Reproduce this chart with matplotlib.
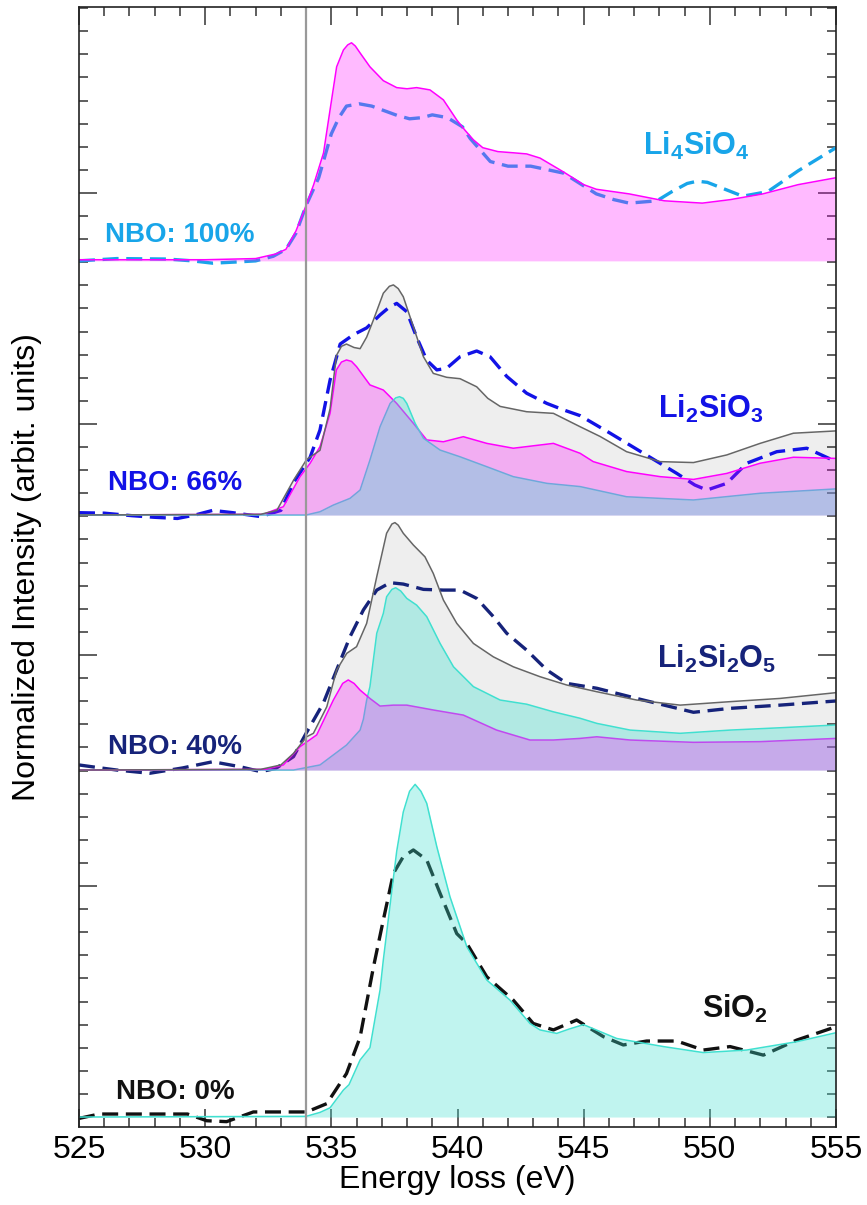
import numpy as np
import matplotlib
matplotlib.use('Agg')
import matplotlib.pyplot as plt
from matplotlib.ticker import MultipleLocator, FixedLocator

plt.rcParams['font.family'] = ['Liberation Sans', 'DejaVu Sans']
plt.rcParams['mathtext.fontset'] = 'custom'
plt.rcParams['mathtext.rm'] = 'Liberation Sans'
plt.rcParams['mathtext.bf'] = 'Liberation Sans:bold'
plt.rcParams['mathtext.it'] = 'Liberation Sans:italic'

########
# data (heights above each panel's own baseline)
########

# Li4SiO4 (NBO 100%)
li4_calc_x = [525, 530, 532, 532.8, 533.2, 533.6, 534.0, 534.3, 534.69, 534.95, 535.21, 535.48, 535.65, 535.8,
              535.95, 536.14, 536.53, 537.06, 537.59, 538.0, 538.38, 538.91, 539.44, 539.97, 540.3, 540.63,
              541.0, 541.6, 542.2, 542.74, 543.27, 544.2, 545.0, 545.5, 546.8, 548.2, 549.7, 550.8, 552.1,
              553.5, 555.0]
li4_calc_y = [0.005, 0.005, 0.01, 0.03, 0.05, 0.13, 0.24, 0.33, 0.467, 0.654, 0.84, 0.913, 0.935, 0.944,
              0.93, 0.90, 0.84, 0.78, 0.75, 0.745, 0.75, 0.74, 0.697, 0.61, 0.565, 0.524,
              0.49, 0.473, 0.468, 0.463, 0.445, 0.385, 0.33, 0.31, 0.29, 0.26, 0.25, 0.265, 0.29,
              0.33, 0.36]
li4_exp_x = [525, 526.5, 528.5, 529.5, 530.3, 531.2, 532.0, 532.7, 533.2, 533.6, 534.0, 534.5, 535.0,
             535.3, 535.6, 536.1, 536.6, 537.1, 537.6, 538.1, 538.6, 539.0, 539.6, 540.2, 540.5, 540.9, 541.3,
             542.0, 542.9, 544.2, 545.5, 546.2, 546.8, 547.9, 548.5, 549.1, 549.5, 549.9, 550.6, 551.3, 552.3,
             553.5, 555.0]
li4_exp_y = [0.0, 0.01, 0.008, 0.0, -0.01, -0.005, 0.0, 0.02, 0.05, 0.12, 0.24, 0.36, 0.55,
             0.62, 0.67, 0.68, 0.67, 0.65, 0.63, 0.615, 0.62, 0.632, 0.62, 0.58, 0.53, 0.48, 0.43,
             0.41, 0.41, 0.38, 0.29, 0.265, 0.25, 0.26, 0.30, 0.335, 0.345, 0.34, 0.31, 0.28, 0.30,
             0.39, 0.49]

# Li2SiO3 (NBO 66%)
li2sio3_tot_x = [525, 532.2, 532.84, 533.5, 533.76, 534.02, 534.55, 534.95, 535.2, 535.4, 535.6, 535.9, 536.14,
                 536.4, 536.67, 537.06, 537.3, 537.46, 537.65, 537.85, 538.25, 538.65, 539.04, 539.57, 540.1,
                 540.76, 541.2, 541.69, 542.74, 543.8, 544.86, 545.65, 546.7, 548.03, 549.35, 550.67, 551.99,
                 553.31, 555.0]
li2sio3_tot_y = [0.0, 0.003, 0.02, 0.15, 0.195, 0.24, 0.28, 0.46, 0.69, 0.73, 0.74, 0.725, 0.72,
                 0.77, 0.845, 0.96, 0.99, 0.996, 0.98, 0.945, 0.815, 0.685, 0.613, 0.596, 0.59,
                 0.555, 0.505, 0.47, 0.447, 0.44, 0.382, 0.34, 0.274, 0.231, 0.227, 0.26, 0.31,
                 0.354, 0.364]
li2sio3_exp_x = [525, 526, 527.1, 528.0, 528.9, 529.6, 530.3, 531.1, 532.2, 533.0, 533.5, 534.16, 534.55,
                 534.95, 535.35, 535.87, 536.4, 536.93, 537.3, 537.59, 537.99, 538.38, 538.78, 539.18, 539.57,
                 540.1, 540.76, 541.29, 541.95, 542.74, 543.54, 544.2, 544.86, 546.05, 547.37, 548.69,
                 549.4, 549.88, 550.67, 551.46, 552.65, 553.84, 555.0]
li2sio3_exp_y = [0.01, 0.008, -0.003, -0.01, -0.015, 0.0, 0.02, 0.01, -0.007, 0.02, 0.14, 0.25, 0.368,
                 0.584, 0.74, 0.78, 0.81, 0.866, 0.90, 0.916, 0.88, 0.77, 0.67, 0.628, 0.635,
                 0.685, 0.71, 0.685, 0.6, 0.527, 0.483, 0.455, 0.43, 0.354, 0.267, 0.18,
                 0.13, 0.108, 0.137, 0.224, 0.274, 0.289, 0.231]
li2sio3_nbo_x = [525, 532.3, 533.1, 533.76, 534.16, 534.55, 534.95, 535.2, 535.4, 535.6, 535.8, 536.0, 536.53,
                 537.06, 537.59, 538.25, 538.78, 539.44, 540.23, 541.16, 542.21, 543.8, 544.86, 545.38, 546.7,
                 548.03, 549.35, 550.67, 551.99, 553.31, 555.0]
li2sio3_nbo_y = [0.0, 0.003, 0.036, 0.166, 0.224, 0.296, 0.44, 0.628, 0.662, 0.671, 0.665, 0.642, 0.563,
                 0.541, 0.483, 0.397, 0.325, 0.317, 0.339, 0.31, 0.289, 0.31, 0.267, 0.231, 0.188,
                 0.166, 0.154, 0.18, 0.224, 0.25, 0.245]
li2sio3_bo_x = [525, 534.0, 534.55, 535.08, 535.74, 536.14, 536.53, 536.93, 537.33, 537.55, 537.7, 537.85,
                537.99, 538.32, 538.65, 539.31, 540.1, 541.16, 542.21, 543.54, 544.86, 546.7, 549.35, 551.99,
                555.0]
li2sio3_bo_y = [0.0, 0.0, 0.014, 0.043, 0.072, 0.108, 0.238, 0.382, 0.483, 0.507, 0.512, 0.505,
                0.483, 0.397, 0.332, 0.281, 0.252, 0.209, 0.166, 0.137, 0.123, 0.079, 0.065, 0.094,
                0.113]

# Li2Si2O5 (NBO 40%)
li2si2o5_tot_x = [525, 532.2, 533.0, 533.5, 534.02, 534.29, 534.82, 535.21, 535.61, 536.0, 536.4, 536.8,
                  537.19, 537.4, 537.52, 537.65, 537.85, 538.25, 538.71, 539.04, 539.44, 539.97, 540.63,
                  541.42, 542.21, 543.27, 544.33, 545.52, 547.1, 548.82, 550.8, 552.78, 555.0]
li2si2o5_tot_y = [0.0, 0.003, 0.022, 0.072, 0.144, 0.159, 0.274, 0.433, 0.505, 0.534, 0.635, 0.837,
                  1.025, 1.065, 1.071, 1.06, 1.025, 0.974, 0.923, 0.851, 0.736, 0.635, 0.548,
                  0.49, 0.447, 0.404, 0.368, 0.339, 0.303, 0.281, 0.296, 0.31, 0.335]
li2si2o5_exp_x = [525, 525.8, 526.5, 527.8, 529.1, 530.3, 531.4, 532.2, 532.8, 533.5, 534.0, 534.68,
                  535.21, 535.74, 536.27, 536.8, 537.33, 537.85, 538.65, 539.44, 540.1, 540.76, 541.42,
                  541.95, 542.74, 543.54, 544.33, 545.52, 547.1, 549.35, 550.8, 552.78, 555.0]
li2si2o5_exp_y = [0.022, 0.01, 0.0, -0.014, 0.009, 0.036, 0.014, -0.007, 0.007, 0.058, 0.159, 0.289,
                  0.433, 0.577, 0.693, 0.779, 0.811, 0.805, 0.782, 0.779, 0.779, 0.743, 0.664,
                  0.592, 0.519, 0.433, 0.375, 0.354, 0.31, 0.25, 0.267, 0.281, 0.299]
li2si2o5_bo_x = [525, 533.5, 534.55, 535.6, 536.14, 536.27, 536.4, 536.53, 536.8, 537.06, 537.19, 537.4,
                 537.55, 537.75, 537.99, 538.38, 538.78, 539.31, 539.84, 540.63, 541.69, 542.74, 543.8,
                 544.86, 545.52, 546.84, 548.82, 550.8, 552.78, 555.0]
li2si2o5_bo_y = [0.0, 0.0, 0.022, 0.108, 0.173, 0.22, 0.303, 0.361, 0.592, 0.678, 0.75, 0.782,
                 0.789, 0.775, 0.743, 0.714, 0.664, 0.548, 0.447, 0.361, 0.303, 0.285, 0.252,
                 0.224, 0.202, 0.173, 0.159, 0.173, 0.183, 0.195]
li2si2o5_nbo_x = [525, 532.4, 533.1, 533.76, 534.42, 535.08, 535.45, 535.67, 535.9, 536.14, 536.53, 536.93,
                  537.46, 537.99, 539.04, 540.23, 541.55, 542.87, 543.8, 544.86, 545.52, 546.84, 549.35,
                  552.0, 555.0]
li2si2o5_nbo_y = [0.0, 0.003, 0.022, 0.101, 0.152, 0.303, 0.375, 0.39, 0.375, 0.346, 0.31, 0.277,
                  0.281, 0.281, 0.26, 0.238, 0.173, 0.13, 0.13, 0.137, 0.144, 0.13, 0.12,
                  0.123, 0.137]

# SiO2 (NBO 0%)
sio2_calc_x = [525, 534.0, 534.55, 534.95, 535.48, 535.7, 536.14, 536.53, 536.93, 537.06, 537.33, 537.59,
               537.85, 538.1, 538.32, 538.55, 538.78, 539.18, 539.7, 540.37, 541.16, 542.08, 542.87,
               543.27, 543.93, 544.4, 544.99, 546.31, 548.16, 549.74, 551.46, 553.44, 555.0]
sio2_calc_y = [0.0, 0.003, 0.02, 0.04, 0.117, 0.14, 0.247, 0.30, 0.55, 0.68, 0.92, 1.15,
               1.32, 1.41, 1.44, 1.41, 1.358, 1.17, 0.954, 0.737, 0.593, 0.506, 0.405,
               0.377, 0.362, 0.38, 0.40, 0.34, 0.305, 0.279, 0.29, 0.326, 0.365]
sio2_exp_x = [525, 525.8, 527.8, 529.3, 530.06, 530.85, 531.91, 533.1, 534.02, 534.82, 535.6, 536.14,
              536.67, 537.06, 537.46, 537.85, 538.25, 538.78, 539.31, 539.97, 540.37, 541.16, 542.21,
              543.0, 543.8, 544.72, 545.78, 546.57, 547.5, 548.69, 549.74, 550.8, 552.12, 553.44, 555.0]
sio2_exp_y = [-0.006, 0.013, 0.013, 0.013, -0.016, -0.02, 0.022, 0.022, 0.022, 0.058, 0.188, 0.346,
              0.65, 0.853, 1.055, 1.127, 1.156, 1.113, 0.968, 0.794, 0.751, 0.607, 0.506,
              0.405, 0.377, 0.42, 0.348, 0.312, 0.329, 0.329, 0.29, 0.305, 0.268, 0.333, 0.391]

# vertical offsets of the stacked spectra
off_li4 = 3.706
off_li2sio3 = 2.606
off_li2si2o5 = 1.502
off_sio2 = 0.0

# colours
c_magenta = '#ff00ff'
c_turq = '#40e0d0'
c_gray_fill = '#eeeeee'
c_gray_line = '#666666'
c_li4 = '#18a5e9'
c_li2sio3 = '#1212e6'
c_li2si2o5 = '#16237a'
c_sio2 = '#111111'

DASH = (0, (4.8, 2.3))
LW_DASH = 2.4
LW = 1.1


def arr(x, y, off):
    return np.asarray(x, float), np.asarray(y, float) + off


fig = plt.figure(figsize=(8.67, 12.05), dpi=100)
ax = fig.add_axes([0.0911, 0.0647, 0.8732, 0.9295])

# ---- Li4SiO4
x, y = arr(li4_exp_x, li4_exp_y, off_li4)
ax.plot(x, y, color=c_li4, lw=LW_DASH, ls=DASH, zorder=3)
x, y = arr(li4_calc_x, li4_calc_y, off_li4)
ax.plot(x, y, color=c_magenta, lw=LW, zorder=4)
ax.fill_between(x, off_li4, y, color=c_magenta, alpha=0.27, lw=0, zorder=5)

# ---- Li2SiO3
x, y = arr(li2sio3_tot_x, li2sio3_tot_y, off_li2sio3)
ax.fill_between(x, off_li2sio3, y, color=c_gray_fill, lw=0, zorder=1)
ax.plot(x, y, color=c_gray_line, lw=LW, zorder=7)
x, y = arr(li2sio3_exp_x, li2sio3_exp_y, off_li2sio3)
ax.plot(x, y, color=c_li2sio3, lw=LW_DASH, ls=DASH, zorder=3)
x, y = arr(li2sio3_nbo_x, li2sio3_nbo_y, off_li2sio3)
ax.plot(x, y, color=c_magenta, lw=LW, zorder=4)
ax.fill_between(x, off_li2sio3, y, color=c_magenta, alpha=0.27, lw=0, zorder=5)
x, y = arr(li2sio3_bo_x, li2sio3_bo_y, off_li2sio3)
ax.plot(x, y, color=c_turq, lw=LW, zorder=4)
ax.fill_between(x, off_li2sio3, y, color=c_turq, alpha=0.35, lw=0, zorder=6)

# ---- Li2Si2O5
x, y = arr(li2si2o5_tot_x, li2si2o5_tot_y, off_li2si2o5)
ax.fill_between(x, off_li2si2o5, y, color=c_gray_fill, lw=0, zorder=1)
ax.plot(x, y, color=c_gray_line, lw=LW, zorder=7)
x, y = arr(li2si2o5_exp_x, li2si2o5_exp_y, off_li2si2o5)
ax.plot(x, y, color=c_li2si2o5, lw=LW_DASH, ls=DASH, zorder=3)
x, y = arr(li2si2o5_bo_x, li2si2o5_bo_y, off_li2si2o5)
ax.plot(x, y, color=c_turq, lw=LW, zorder=4)
ax.fill_between(x, off_li2si2o5, y, color=c_turq, alpha=0.35, lw=0, zorder=5)
x, y = arr(li2si2o5_nbo_x, li2si2o5_nbo_y, off_li2si2o5)
ax.plot(x, y, color=c_magenta, lw=LW, zorder=4)
ax.fill_between(x, off_li2si2o5, y, color=c_magenta, alpha=0.27, lw=0, zorder=6)

# ---- SiO2
x, y = arr(sio2_exp_x, sio2_exp_y, off_sio2)
ax.plot(x, y, color=c_sio2, lw=LW_DASH, ls=DASH, zorder=3)
x, y = arr(sio2_calc_x, sio2_calc_y, off_sio2)
ax.plot(x, y, color=c_turq, lw=LW, zorder=4)
ax.fill_between(x, off_sio2, y, color=c_turq, alpha=0.33, lw=0, zorder=5)

ax.axvline(534, color='#999999', lw=1.6, zorder=8)

# labels
lab = dict(fontweight='bold', zorder=9)
ax.text(547.35, 4.165, r'$\mathbf{Li_4SiO_4}$', color=c_li4, fontsize=22, va='baseline', **lab)
ax.text(526.03, 3.818, 'NBO: 100%', color=c_li4, fontsize=20, va='center', **lab)
ax.text(547.95, 3.026, r'$\mathbf{Li_2SiO_3}$', color=c_li2sio3, fontsize=22, va='baseline', **lab)
ax.text(526.15, 2.745, 'NBO: 66%', color=c_li2sio3, fontsize=20, va='center', **lab)
ax.text(547.91, 1.944, r'$\mathbf{Li_2Si_2O_5}$', color=c_li2si2o5, fontsize=22, va='baseline', **lab)
ax.text(526.15, 1.602, 'NBO: 40%', color=c_li2si2o5, fontsize=20, va='center', **lab)
ax.text(549.69, 0.429, r'$\mathbf{SiO_2}$', color=c_sio2, fontsize=22, va='baseline', **lab)
ax.text(526.47, 0.108, 'NBO: 0%', color=c_sio2, fontsize=20, va='center', **lab)

# axes
ax.set_xlim(525, 555)
ax.set_ylim(-0.0433, 4.805)
ax.xaxis.set_major_locator(MultipleLocator(5))
ax.xaxis.set_minor_locator(MultipleLocator(1))
ax.yaxis.set_major_locator(FixedLocator([1, 2, 3, 4]))
ax.yaxis.set_minor_locator(MultipleLocator(0.1))
ax.set_yticklabels([])
ax.tick_params(which='both', direction='in', top=True, right=True, color='#333333', width=1.1)
ax.tick_params(which='major', length=13, labelsize=23, pad=6)
ax.tick_params(which='minor', length=6.5)
for s in ax.spines.values():
    s.set_linewidth(1.2)
    s.set_color('#222222')
    s.set_zorder(10)

ax.set_xlabel('Energy loss (eV)', fontsize=23, labelpad=0)
ax.set_ylabel('Normalized Intensity (arbit. units)', fontsize=23)
ax.yaxis.set_label_coords(-0.049, 0.5)

fig.savefig('out.png', dpi=100)
